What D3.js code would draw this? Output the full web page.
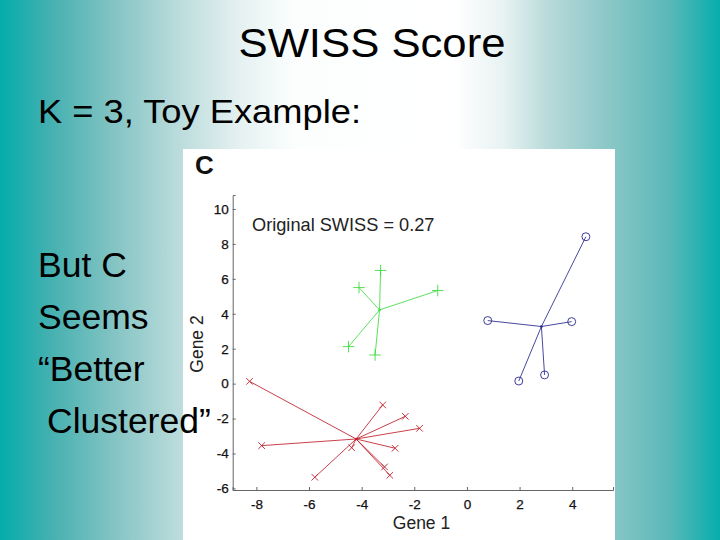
<!DOCTYPE html>
<html><head><meta charset="utf-8">
<script src="https://cdn.jsdelivr.net/npm/d3@7/dist/d3.min.js"></script>
<style>html,body{margin:0;padding:0;background:#fff}svg{display:block}text{font-family:"Liberation Sans",Arial,sans-serif}</style>
</head><body><svg id="c" width="720" height="540"></svg>
<script>
const titleText = "SWISS Score";
const subtitleText = "K = 3, Toy Example:";
const sideLines = ["But C", "Seems", "“Better", " Clustered”"];
const xTicks = [-8,-6,-4,-2,0,2,4];
const yTicks = [-6,-4,-2,0,2,4,6,8,10];
const redCentre = [-4.21,-3.17];
const redPoints = [[-8.26,0.13],[-7.8,-3.55],[-5.78,-5.36],[-4.38,-3.67],[-3.2,-1.22],[-2.34,-1.87],[-1.8,-2.56],[-2.73,-3.7],[-3.13,-4.77],[-2.93,-5.25]];
const greenCentre = [-3.32,4.22];
const greenPoints = [[-3.28,6.48],[-4.1,5.5],[-1.11,5.33],[-4.5,2.12],[-3.49,1.64]];
const blueCentre = [2.83,3.27];
const bluePoints = [[4.52,8.41],[0.79,3.61],[3.98,3.55],[1.97,0.15],[2.95,0.5]];

const svg = d3.select("#c");
const defs = svg.append("defs");
const g = defs.append("linearGradient").attr("id","bg").attr("x1",0).attr("x2",1).attr("y1",0).attr("y2",0);
[[0,"#04acac"],[0.07,"#45b0b0"],[0.16,"#85c4c4"],[0.25,"#bcdcdc"],[0.33,"#e4f0f0"],[0.41,"#fcfefe"],[0.63,"#ffffff"],[0.70,"#e8f2f2"],[0.76,"#b9dada"],[0.84,"#8ec8c8"],[0.93,"#5ab8b8"],[1,"#07adad"]]
  .forEach(s=>g.append("stop").attr("offset",s[0]).attr("stop-color",s[1]));
svg.append("rect").attr("width",720).attr("height",540).attr("fill","url(#bg)");
svg.append("rect").attr("x",183).attr("y",149).attr("width",432).attr("height",391).attr("fill","#fff");

svg.append("text").attr("x",372).attr("y",57).attr("text-anchor","middle").attr("font-size",41).attr("textLength",267).attr("lengthAdjust","spacingAndGlyphs").text(titleText);
svg.append("text").attr("x",38).attr("y",123).attr("font-size",34).attr("textLength",323).attr("lengthAdjust","spacingAndGlyphs").text(subtitleText);

const x = d3.scaleLinear().domain([-8.9,5.55]).range([232.7,613]);
const y = d3.scaleLinear().domain([-6.09,10.8]).range([490,195]);
const axisColor="#666";
const ax = svg.append("g").attr("transform","translate(0,490)").call(d3.axisBottom(x).tickValues(xTicks).tickSize(-3).tickPadding(9).tickFormat(d3.format("d")));
const ay = svg.append("g").attr("transform","translate(232.7,0)").call(d3.axisLeft(y).tickValues(yTicks).tickSize(-3).tickPadding(4).tickFormat(d3.format("d")));
[ax,ay].forEach(a=>{
  a.select(".domain").attr("stroke",axisColor).attr("stroke-width",1);
  a.selectAll("line").attr("stroke",axisColor);
  a.selectAll("text").attr("font-size",13.5).attr("fill","#111").attr("stroke","#111").attr("stroke-width",.25).attr("font-family",'"Liberation Sans",Arial,sans-serif');
});
ax.selectAll("text").text(d=>String(d).replace("−","-"));
ay.selectAll("text").text(d=>String(d).replace("−","-"));

svg.append("text").attr("x",421.5).attr("y",529).attr("text-anchor","middle").attr("font-size",17.5).attr("fill","#222").text("Gene 1");
svg.append("text").attr("transform","translate(203,344) rotate(-90)").attr("text-anchor","middle").attr("font-size",17.5).attr("fill","#222").text("Gene 2");
svg.append("text").attr("x",195).attr("y",174).attr("font-size",26).attr("font-weight","bold").attr("fill","#111").text("C");
svg.append("text").attr("x",252).attr("y",231).attr("font-size",18.2).attr("fill","#222").text("Original SWISS = 0.27");

function cluster(centre, pts, color, sym, size){
  const l = svg.append("g");
  l.selectAll("line").data(pts).join("line")
    .attr("x1",x(centre[0])).attr("y1",y(centre[1]))
    .attr("x2",d=>x(d[0])).attr("y2",d=>y(d[1]))
    .attr("stroke",color).attr("stroke-width",1).attr("stroke-opacity",.85);
  l.selectAll("path").data(pts).join("path")
    .attr("transform",d=>`translate(${x(d[0])},${y(d[1])})`)
    .attr("d",d3.symbol().type(sym).size(size))
    .attr("fill","none").attr("stroke",color).attr("stroke-width",.9);
  l.append("circle").attr("cx",x(centre[0])).attr("cy",y(centre[1])).attr("r",1.3).attr("fill",color);
}
cluster(redCentre,redPoints,"#c01f2a",d3.symbolTimes,30);
cluster(greenCentre,greenPoints,"#3fdc3f",d3.symbolPlus,45);
cluster(blueCentre,bluePoints,"#28288f",d3.symbolCircle,50);

const lineY=[277,329,381,433];
svg.append("g").selectAll("text").data(sideLines).join("text")
  .attr("x",(d,i)=>i==3?47:38).attr("y",(d,i)=>lineY[i]).attr("font-size",35.5).text(d=>d.trim());
</script></body></html>
